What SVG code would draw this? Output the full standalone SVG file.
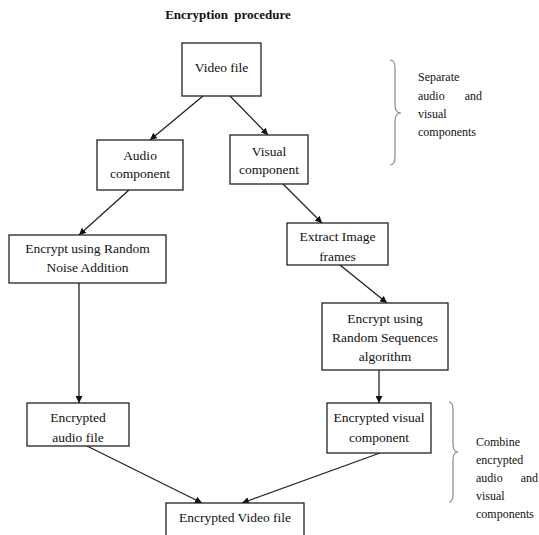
<svg xmlns="http://www.w3.org/2000/svg" width="539" height="535" viewBox="0 0 539 535">
<defs>
<style>
.box{fill:#fff;stroke:#222;stroke-width:1.3}
.t{font-family:"Liberation Serif","Times New Roman",serif;font-size:13.5px;fill:#111;text-anchor:middle}
.s{font-family:"Liberation Serif","Times New Roman",serif;font-size:12px;fill:#111}
.c{stroke:#222;stroke-width:1.3;fill:none;marker-end:url(#ah)}
.br{stroke:#888;stroke-width:1.2;fill:none}
</style>
<marker id="ah" viewBox="0 0 10 10" refX="10" refY="5" markerWidth="7" markerHeight="7" markerUnits="userSpaceOnUse" orient="auto">
<path d="M0,0 L10,5 L0,10 z" fill="#111"/>
</marker>
</defs>
<rect width="539" height="535" fill="#fff"/>
<text x="228" y="19" style="font-family:'Liberation Serif','Times New Roman',serif;font-size:13px;font-weight:bold;fill:#111;text-anchor:middle;word-spacing:3px">Encryption procedure</text>

<g id="connectors">
<line class="c" x1="203" y1="96" x2="150" y2="140"/>
<line class="c" x1="230" y1="96" x2="268" y2="135"/>
<line class="c" x1="129" y1="190" x2="79" y2="235"/>
<line class="c" x1="283" y1="184" x2="322" y2="223"/>
<line class="c" x1="340" y1="265" x2="387" y2="303"/>
<line class="c" x1="379" y1="370" x2="379" y2="403"/>
<line class="c" x1="79" y1="283" x2="79" y2="403"/>
<line class="c" x1="87" y1="446" x2="202" y2="503"/>
<line class="c" x1="380" y1="453" x2="242" y2="503"/>
</g>

<g id="video-file">
<rect class="box" x="182" y="43" width="79" height="53"/>
<text class="t" x="221.5" y="72">Video file</text>
</g>
<g id="audio-component">
<rect class="box" x="97" y="140" width="86" height="50"/>
<text class="t" x="140" y="159.5">Audio</text>
<text class="t" x="140" y="177.5">component</text>
</g>
<g id="visual-component">
<rect class="box" x="230" y="135" width="78" height="49"/>
<text class="t" x="269" y="156">Visual</text>
<text class="t" x="269" y="174">component</text>
</g>
<g id="encrypt-noise">
<rect class="box" x="9" y="235" width="157" height="48"/>
<text class="t" x="87.5" y="253">Encrypt using Random</text>
<text class="t" x="87.5" y="272">Noise Addition</text>
</g>
<g id="extract-frames">
<rect class="box" x="287" y="223" width="101" height="42"/>
<text class="t" x="337.5" y="241">Extract Image</text>
<text class="t" x="337.5" y="261">frames</text>
</g>
<g id="encrypt-rs">
<rect class="box" x="322" y="303" width="126" height="67"/>
<text class="t" x="385" y="323">Encrypt using</text>
<text class="t" x="385" y="342">Random Sequences</text>
<text class="t" x="385" y="361">algorithm</text>
</g>
<g id="encrypted-audio">
<rect class="box" x="27" y="403" width="102" height="43"/>
<text class="t" x="78" y="422">Encrypted</text>
<text class="t" x="78" y="442">audio file</text>
</g>
<g id="encrypted-visual">
<rect class="box" x="327" y="403" width="104" height="50"/>
<text class="t" x="379" y="422">Encrypted visual</text>
<text class="t" x="379" y="442">component</text>
</g>
<g id="encrypted-video">
<rect class="box" x="166" y="503" width="138" height="40"/>
<text class="t" x="235" y="522">Encrypted Video file</text>
</g>

<g id="brace-separate">
<path class="br" d="M390,60 Q395,60 395,68 L395,105 Q395,113 401,113 Q395,113 395,121 L395,157 Q395,165 390,165"/>
<text class="s" x="418" y="81">Separate</text>
<text class="s" x="418" y="100">audio</text>
<text class="s" x="482" y="100" text-anchor="end">and</text>
<text class="s" x="418" y="118">visual</text>
<text class="s" x="418" y="136">components</text>
</g>
<g id="brace-combine">
<path class="br" d="M449,402 Q453,402 453,410 L453,444 Q453,452 458,452 Q453,452 453,460 L453,494 Q453,502 449,502"/>
<text class="s" x="476" y="446">Combine</text>
<text class="s" x="476" y="464">encrypted</text>
<text class="s" x="476" y="482">audio</text>
<text class="s" x="538" y="482" text-anchor="end">and</text>
<text class="s" x="476" y="500">visual</text>
<text class="s" x="476" y="518">components</text>
</g>
</svg>
